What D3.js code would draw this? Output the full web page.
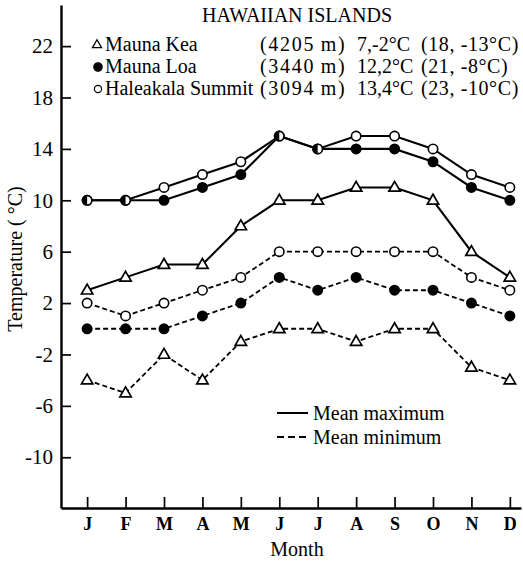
<!DOCTYPE html>
<html>
<head>
<meta charset="utf-8">
<script src="https://cdn.jsdelivr.net/npm/d3@7"></script>
<style>
  body { margin: 0; background: #fff; }
  svg { display: block; font-family: "Liberation Serif", "Times New Roman", serif; }
</style>
</head>
<body>
<svg id="chart" width="523" height="561"></svg>
<script>
// Month labels and y tick values
const months = ["J", "F", "M", "A", "M", "J", "J", "A", "S", "O", "N", "D"];
const yTicks = [22, 18, 14, 10, 6, 2, -2, -6, -10];

// Station info for the legend
const stations = ["Mauna Kea", "Mauna Loa", "Haleakala Summit"];
const elevations = ["(4205\u2009m)", "(3440\u2009m)", "(3094\u2009m)"];
const annualMeans = ["7,-2\u00b0C", "12,2\u00b0C", "13,4\u00b0C"];
const extremes = ["(18, -13\u00b0C)", "(21, -8\u00b0C)", "(23, -10\u00b0C)"];
const markers = ["triangle", "filled", "open"];

// Monthly means (degC)
const maunaKeaMax = [3, 4, 5, 5, 8, 10, 10, 11, 11, 10, 6, 4];
const maunaKeaMin = [-4, -5, -2, -4, -1, 0, 0, -1, 0, 0, -3, -4];
const maunaLoaMax = [10, 10, 10, 11, 12, 15, 14, 14, 14, 13, 11, 10];
const maunaLoaMin = [0, 0, 0, 1, 2, 4, 3, 4, 3, 3, 2, 1];
const haleakalaMax = [10, 10, 11, 12, 13, 15, 14, 15, 15, 14, 12, 11];
const haleakalaMin = [2, 1, 2, 3, 4, 6, 6, 6, 6, 6, 4, 3];

const series = [
  { values: maunaKeaMax, marker: "triangle", dashed: false },
  { values: maunaKeaMin, marker: "triangle", dashed: true },
  { values: maunaLoaMax, marker: "filled", dashed: false },
  { values: maunaLoaMin, marker: "filled", dashed: true },
  { values: haleakalaMax, marker: "open", dashed: false },
  { values: haleakalaMin, marker: "open", dashed: true }
];

const svg = d3.select("#chart");

// scales
const x = d3.scaleLinear().domain([-0.68, 11.29]).range([61, 521]);
const y = d3.scaleLinear().domain([-13.95, 25.2]).range([508, 5]);

// axes
const yAxis = d3.axisLeft(y)
  .tickValues(yTicks)
  .tickSizeInner(-10)
  .tickSizeOuter(0)
  .tickPadding(8)
  .tickFormat(d => String(d));

const xAxis = d3.axisBottom(x)
  .tickValues(d3.range(12))
  .tickSizeInner(-11)
  .tickSizeOuter(0)
  .tickPadding(9)
  .tickFormat(i => months[i]);

const yAxisG = svg.append("g")
  .attr("transform", "translate(61,0)")
  .call(yAxis);
yAxisG.selectAll("text").attr("font-size", 21).attr("fill", "#000")
  .attr("font-family", "Liberation Serif");

const xAxisG = svg.append("g")
  .attr("transform", "translate(0,508)")
  .call(xAxis);
xAxisG.selectAll("text").attr("font-size", 18).attr("font-weight", "bold").attr("fill", "#000")
  .attr("font-family", "Liberation Serif");

svg.selectAll(".domain").attr("stroke", "#000").attr("stroke-width", 2.4);
svg.selectAll(".tick line").attr("stroke", "#000").attr("stroke-width", 1.7);

// axis titles
svg.append("text")
  .attr("x", 297).attr("y", 556)
  .attr("text-anchor", "middle")
  .attr("font-size", 20)
  .text("Month");

svg.append("text")
  .attr("transform", "translate(22,259) rotate(-90)")
  .attr("text-anchor", "middle")
  .attr("font-size", 20)
  .text("Temperature ( \u00b0C)");

// lines
const line = d3.line()
  .x((d, i) => x(i))
  .y(d => y(d));

svg.append("g").selectAll("path")
  .data(series)
  .join("path")
    .attr("d", d => line(d.values))
    .attr("fill", "none")
    .attr("stroke", "#000")
    .attr("stroke-width", d => d.dashed ? 1.8 : 2.1)
    .attr("stroke-dasharray", d => d.dashed ? "5,3" : null);

// markers
const tri = d3.symbol().type(d3.symbolTriangle).size(56);

function drawMarker(g, type, cx, cy) {
  if (type === "triangle") {
    g.append("path")
      .attr("d", tri())
      .attr("transform", `translate(${cx},${cy + 0.5})`)
      .attr("fill", "#fff")
      .attr("stroke", "#000")
      .attr("stroke-width", 1.7);
  } else {
    g.append("circle")
      .attr("cx", cx).attr("cy", cy).attr("r", 4.7)
      .attr("fill", type === "filled" ? "#000" : "#fff")
      .attr("stroke", "#000")
      .attr("stroke-width", 1.6);
  }
}

const markerG = svg.append("g");
// filled first so the open circles sit on top
series.forEach(s => {
  s.values.forEach((v, i) => drawMarker(markerG, s.marker, x(i), y(v)));
});

// where Mauna Loa and Haleakala coincide the figure shows a half-filled circle
const halfArc = d3.arc().innerRadius(0).outerRadius(4.7)
  .startAngle(Math.PI).endAngle(2 * Math.PI);
[[maunaLoaMax, haleakalaMax], [maunaLoaMin, haleakalaMin]].forEach(([a, b]) => {
  a.forEach((v, i) => {
    if (v === b[i]) {
      markerG.append("path")
        .attr("d", halfArc())
        .attr("transform", `translate(${x(i)},${y(v)})`)
        .attr("fill", "#000");
    }
  });
});

// legend: stations
const legend = svg.append("g").attr("font-size", 20);

legend.append("text")
  .attr("x", 297).attr("y", 22)
  .attr("text-anchor", "middle")
  .text("HAWAIIAN ISLANDS");

const rowY = [51, 73, 95];
stations.forEach((name, i) => {
  const ry = rowY[i];
  const m = markers[i];
  if (m === "triangle") {
    legend.append("path")
      .attr("d", d3.symbol().type(d3.symbolTriangle).size(36)())
      .attr("transform", `translate(97,${ry - 6})`)
      .attr("fill", "#fff").attr("stroke", "#000").attr("stroke-width", 1.3);
  } else {
    legend.append("circle")
      .attr("cx", 98).attr("cy", ry - 6).attr("r", m === "filled" ? 4.2 : 3.6)
      .attr("fill", m === "filled" ? "#000" : "#fff")
      .attr("stroke", "#000").attr("stroke-width", 1.2);
  }
  legend.append("text").attr("x", 105).attr("y", ry).text(name);
  legend.append("text").attr("x", 260).attr("y", ry)
    .attr("letter-spacing", 1.7).text(elevations[i]);
  legend.append("text").attr("x", 357).attr("y", ry).text(annualMeans[i]);
  legend.append("text").attr("x", 421).attr("y", ry)
    .attr("letter-spacing", 0.6).text(extremes[i]);
});

// legend: line styles
const styleLegend = [
  { label: "Mean maximum", dashed: false, y: 413 },
  { label: "Mean minimum", dashed: true, y: 437 }
];
styleLegend.forEach(d => {
  legend.append("line")
    .attr("x1", 277).attr("x2", 308)
    .attr("y1", d.y).attr("y2", d.y)
    .attr("stroke", "#000")
    .attr("stroke-width", 2)
    .attr("stroke-dasharray", d.dashed ? "7,4" : null);
  legend.append("text")
    .attr("x", 313).attr("y", d.y + 7)
    .text(d.label);
});
</script>
</body>
</html>
